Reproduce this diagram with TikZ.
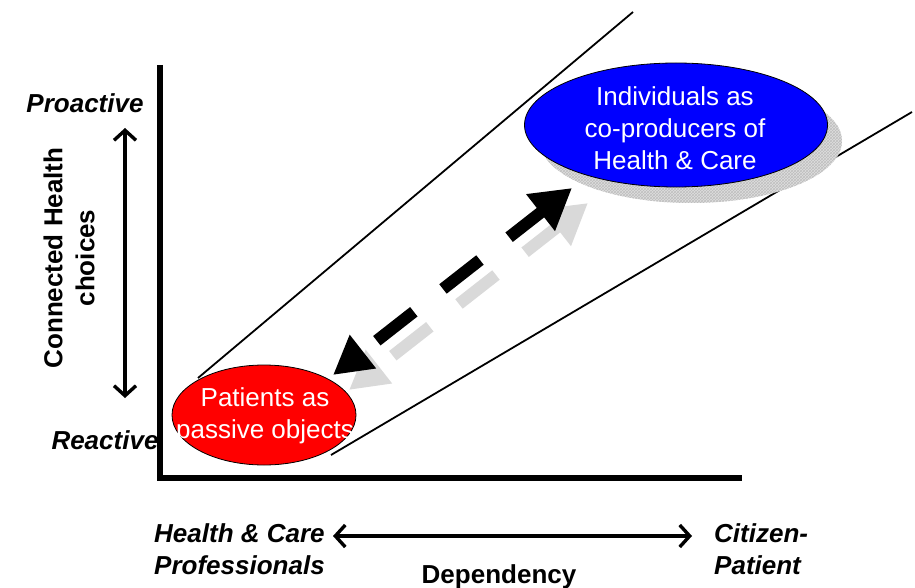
\documentclass[tikz,border=0pt]{standalone}
\usepackage{fontspec}
\setmainfont{Liberation Sans}
\usetikzlibrary{positioning}
\usetikzlibrary{shapes.geometric}
\usetikzlibrary{arrows.meta}
\usetikzlibrary{patterns}

\begin{document}
\begin{tikzpicture}
[x=1pt,y=-1pt,
  label/.style={font=\fontsize{26}{32}\selectfont\bfseries\itshape,inner sep=0pt},
  oval/.style={shape=ellipse,draw=black,thick,inner sep=0pt},
  ovaltext/.style={font=\fontsize{26}{32}\selectfont,text=white,align=center,inner sep=0pt},
  shade/.style={fill=gray!25,pattern color=gray!55},
  axis/.style={line width=6pt,line join=miter},
  guide/.style={line width=1.8pt},
  scale arrow/.style={line width=3.4pt,{Straight Barb[length=10pt,width=22pt]}-{Straight Barb[length=10pt,width=22pt]}},
  move/.style={line width=12pt,dash pattern=on 47pt off 37pt,dash phase=64pt,
    {Triangle[length=38pt,width=40pt]}-{Triangle[length=40pt,width=44pt]}}]

\useasboundingbox (0,0) rectangle (915,588);

% guide lines of the band
\coordinate (bandA) at (198,378);
\coordinate (bandB) at (633,12);
\coordinate (bandC) at (331,455);
\coordinate (bandD) at (912,112);
\draw[guide] (bandA) -- (bandB);
\draw[guide] (bandC) -- (bandD);

% axes
\coordinate (ytop) at (160,65);
\coordinate (origin) at (160,478);
\coordinate (xend) at (742,478);
\draw[axis] (ytop) -- (origin) -- (xend);

% shadows
\fill[shade] (691,141) ellipse [x radius=151,y radius=62];
\path[pattern=crosshatch,pattern color=gray!50] (691,141) ellipse [x radius=151,y radius=62];
\coordinate (shadowlow) at (349,390);
\coordinate (shadowhigh) at (588,203);
\draw[move,gray!30] (shadowlow) -- (shadowhigh);

% the two states
\node[oval,fill=red,minimum width=184pt,minimum height=100pt] (patients) at (264,415) {};
\node[oval,fill=blue,minimum width=303pt,minimum height=124pt] (individuals) at (676,125) {};
\node[ovaltext] (patientstext) at (265,416) {Patients as\\passive objects};
\node[ovaltext] (individualstext) at (675,128) {Individuals as\\co-producers of\\Health \& Care};

% movement between them
\coordinate (lowtip) at (333,375);
\coordinate (hightip) at (572,188);
\draw[move] (lowtip) -- (hightip);

% vertical scale
\node[label,anchor=base] (proactive) at (85,113) {Proactive};
\node[label,anchor=base] (reactive) at (105,449) {Reactive};
\node[font=\fontsize{26}{32}\selectfont\bfseries,align=center,rotate=90,inner sep=0pt] (choices) at (69,258) {Connected Health\\choices};
\coordinate (choicetop) at (125,128);
\coordinate (choicebot) at (125,398);
\draw[scale arrow] (choicetop) -- (choicebot);

% horizontal scale
\node[label,align=left,anchor=west] (carers) at (154,549) {Health \& Care\\Professionals};
\node[label,align=left,anchor=west] (citizen) at (714,549) {Citizen-\\Patient};
\node[font=\fontsize{26}{32}\selectfont\bfseries,anchor=base,inner sep=0pt] (dependency) at (499,583) {Dependency};
\coordinate (depleft) at (333,536);
\coordinate (depright) at (692,536);
\draw[scale arrow] (depleft) -- (depright);
\end{tikzpicture}
\end{document}
